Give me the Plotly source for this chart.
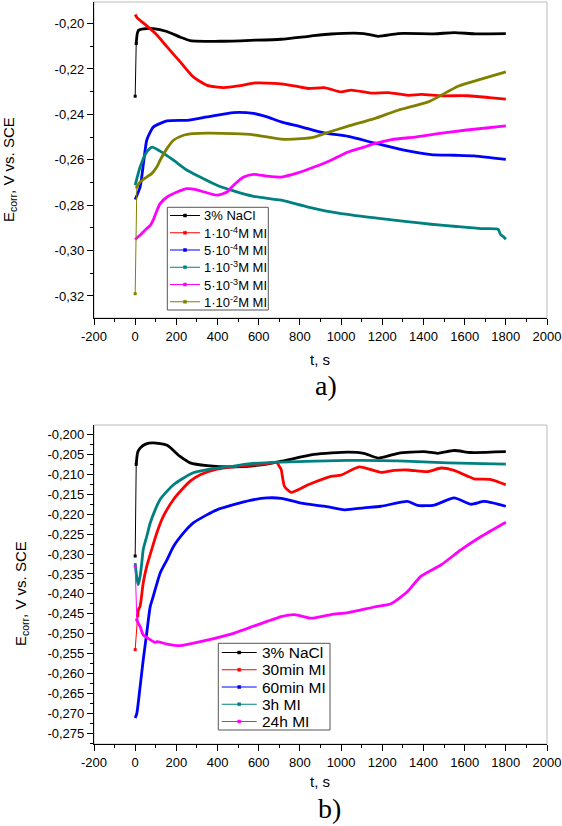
import plotly.graph_objects as go

# ---------------- data: panel a) ----------------
names_a = ["3% NaCl", "1·10<sup>-4</sup>M MI", "5·10<sup>-4</sup>M MI",
           "1·10<sup>-3</sup>M MI", "5·10<sup>-3</sup>M MI", "1·10<sup>-2</sup>M MI"]

nacl_a_t = [0, 5, 10, 16, 40, 89, 154, 220, 267, 413, 560, 709, 850, 951, 1111, 1180, 1277, 1451, 1549, 1650, 1800]
nacl_a_E = [-0.2320, -0.2088, -0.2045, -0.2030, -0.2023, -0.2022, -0.2035, -0.2060, -0.2075, -0.2078, -0.2074,
            -0.2069, -0.2055, -0.2046, -0.2044, -0.2056, -0.2044, -0.2045, -0.2040, -0.2045, -0.2044]

mi1e4_t = [0, 10, 39, 100, 155, 220, 282, 350, 429, 500, 575, 640, 709, 780, 840, 918, 1000, 1049, 1146, 1230,
           1326, 1390, 1486, 1617, 1720, 1800]
mi1e4_E = [-0.1960, -0.1975, -0.1997, -0.2045, -0.2103, -0.2170, -0.2235, -0.2272, -0.2282, -0.2275, -0.2262,
           -0.2262, -0.2266, -0.2276, -0.2286, -0.2282, -0.2301, -0.2293, -0.2306, -0.2304, -0.2316, -0.2312,
           -0.2318, -0.2318, -0.2326, -0.2333]

mi5e4_t = [0, 24, 40, 56, 73, 89, 154, 252, 350, 478, 575, 640, 709, 806, 918, 1034, 1161, 1306, 1437, 1549,
           1646, 1743, 1800]
mi5e4_E = [-0.2775, -0.2720, -0.2617, -0.2514, -0.2478, -0.2455, -0.2429, -0.2426, -0.2411, -0.2392, -0.2396,
           -0.2411, -0.2433, -0.2455, -0.2482, -0.2497, -0.2526, -0.2558, -0.2577, -0.2580, -0.2583, -0.2593, -0.2598]

mi1e3_t = [0, 24, 56, 82, 121, 186, 252, 316, 397, 478, 575, 709, 830, 951, 1070, 1194, 1320, 1437, 1560, 1680,
           1762, 1775, 1790, 1800]
mi1e3_E = [-0.2712, -0.2632, -0.2566, -0.2544, -0.2562, -0.2602, -0.2646, -0.2676, -0.2712, -0.2737, -0.2761,
           -0.2778, -0.2806, -0.2830, -0.2846, -0.2859, -0.2872, -0.2884, -0.2894, -0.2903, -0.2906, -0.2930,
           -0.2940, -0.2950]

mi5e3_t = [0, 20, 39, 56, 73, 90, 105, 121, 155, 203, 252, 290, 336, 398, 446, 478, 527, 575, 640, 709, 789, 869,
           951, 1034, 1111, 1161, 1245, 1358, 1471, 1600, 1800]
mi5e3_E = [-0.2951, -0.2935, -0.2918, -0.2903, -0.2889, -0.2860, -0.2825, -0.2793, -0.2764, -0.2742, -0.2727,
           -0.2730, -0.2742, -0.2756, -0.2742, -0.2712, -0.2676, -0.2664, -0.2672, -0.2676, -0.2658, -0.2632,
           -0.2602, -0.2566, -0.2544, -0.2529, -0.2511, -0.2500, -0.2485, -0.2470, -0.2451]

mi1e2_t = [0, 8, 24, 56, 80, 105, 121, 154, 186, 235, 282, 350, 478, 575, 709, 806, 869, 918, 1034, 1161, 1277,
           1423, 1486, 1568, 1680, 1800]
mi1e2_E = [-0.3190, -0.2720, -0.2698, -0.2676, -0.2661, -0.2632, -0.2602, -0.2551, -0.2514, -0.2492, -0.2485,
           -0.2483, -0.2485, -0.2490, -0.2509, -0.2507, -0.2500, -0.2485, -0.2452, -0.2419, -0.2382, -0.2345,
           -0.2316, -0.2276, -0.2245, -0.2213]

# ---------------- data: panel b) ----------------
names_b = ["3% NaCl", "30min MI", "60min MI", "3h MI", "24h MI"]

nacl_b_t = [0, 5, 12, 24, 50, 88, 155, 218, 267, 350, 478, 600, 709, 869, 1034, 1111, 1180, 1277, 1403, 1469,
            1549, 1630, 1800]
nacl_b_E = [-0.2305, -0.2075, -0.2045, -0.2034, -0.2024, -0.2021, -0.2027, -0.2055, -0.2071, -0.2078, -0.2081,
            -0.2077, -0.2067, -0.2050, -0.2044, -0.2047, -0.2059, -0.2047, -0.2043, -0.2047, -0.2040, -0.2045, -0.2043]

m30_t = [0, 12, 16, 24, 39, 56, 80, 105, 137, 186, 227, 267, 316, 397, 478, 607, 688, 700, 709, 725, 757, 840, 951,
         1000, 1088, 1194, 1258, 1323, 1420, 1486, 1549, 1646, 1727, 1800]
m30_E = [-0.2540, -0.2455, -0.2440, -0.2431, -0.2373, -0.2331, -0.2289, -0.2247, -0.2205, -0.2163, -0.2138, -0.2117,
         -0.2101, -0.2087, -0.2081, -0.2075, -0.2071, -0.2080, -0.2088, -0.2130, -0.2145, -0.2126, -0.2105, -0.2102,
         -0.2081, -0.2095, -0.2090, -0.2089, -0.2093, -0.2084, -0.2090, -0.2111, -0.2113, -0.2126]

m60_t = [0, 8, 24, 39, 56, 73, 88, 121, 155, 186, 235, 282, 350, 397, 478, 559, 640, 709, 806, 918, 1017, 1111,
         1194, 1323, 1371, 1453, 1549, 1630, 1695, 1800]
m60_E = [-0.2712, -0.2700, -0.2633, -0.2566, -0.2499, -0.2432, -0.2406, -0.2348, -0.2314, -0.2281, -0.2247, -0.2222,
         -0.2201, -0.2189, -0.2176, -0.2165, -0.2159, -0.2160, -0.2172, -0.2180, -0.2189, -0.2184, -0.2180, -0.2168,
         -0.2178, -0.2177, -0.2159, -0.2175, -0.2168, -0.2180]

h3_t = [0, 8, 15, 24, 32, 39, 56, 73, 97, 121, 155, 186, 235, 282, 350, 478, 559, 709, 1034, 1277, 1520, 1800]
h3_E = [-0.2323, -0.2360, -0.2377, -0.2356, -0.2323, -0.2289, -0.2256, -0.2222, -0.2189, -0.2163, -0.2142, -0.2126,
        -0.2109, -0.2096, -0.2088, -0.2079, -0.2073, -0.2069, -0.2065, -0.2066, -0.2071, -0.2074]

h24_t = [0, 8, 15, 24, 39, 73, 97, 105, 155, 218, 316, 478, 709, 774, 855, 951, 1034, 1161, 1242, 1323, 1387, 1486,
         1583, 1680, 1800]
h24_E = [-0.2331, -0.2465, -0.2474, -0.2482, -0.2503, -0.2515, -0.2522, -0.2520, -0.2526, -0.2530, -0.2520, -0.2499,
         -0.2457, -0.2452, -0.2461, -0.2452, -0.2447, -0.2433, -0.2425, -0.2394, -0.2356, -0.2327, -0.2289, -0.2256,
         -0.2220]

# ---------------- ticks / titles ----------------
x_tickvals = [-200, 0, 200, 400, 600, 800, 1000, 1200, 1400, 1600, 1800, 2000]
x_ticktext = ["-200", "0", "200", "400", "600", "800", "1000", "1200", "1400", "1600", "1800", "2000"]
ya_tickvals = [-0.32, -0.30, -0.28, -0.26, -0.24, -0.22, -0.20]
ya_ticktext = ["-0,32", "-0,30", "-0,28", "-0,26", "-0,24", "-0,22", "-0,20"]
yb_tickvals = [-0.275, -0.270, -0.265, -0.260, -0.255, -0.250, -0.245, -0.240, -0.235, -0.230, -0.225, -0.220,
               -0.215, -0.210, -0.205, -0.200]
yb_ticktext = ["-0,275", "-0,270", "-0,265", "-0,260", "-0,255", "-0,250", "-0,245", "-0,240", "-0,235", "-0,230",
               "-0,225", "-0,220", "-0,215", "-0,210", "-0,205", "-0,200"]
x_title = "t, s"
y_title = "E<sub>corr</sub>, V vs. SCE"
panel_labels = ["a)", "b)"]

# ---------------- styles ----------------
W, H = 562, 826
ML, MR, MT, MB = 94, 15, 2, 82
PW, PH = W - ML - MR, H - MT - MB


def px(xp):  # pixel -> paper x
    return (xp - ML) / PW


def py(yp):  # pixel -> paper y
    return (H - MB - yp) / PH


BLACK, RED, BLUE, TEAL, MAG, OLIVE = "#000000", "#FF0000", "#0000FF", "#008080", "#FF00FF", "#808000"
series_a = [
    (nacl_a_t, nacl_a_E, BLACK, 2),
    (mi1e4_t, mi1e4_E, RED, 0),
    (mi5e4_t, mi5e4_E, BLUE, 0),
    (mi1e3_t, mi1e3_E, TEAL, 0),
    (mi5e3_t, mi5e3_E, MAG, 0),
    (mi1e2_t, mi1e2_E, OLIVE, 2),
]
series_b = [
    (nacl_b_t, nacl_b_E, BLACK, 2),
    (m30_t, m30_E, RED, 2),
    (m60_t, m60_E, BLUE, 0),
    (h3_t, h3_E, TEAL, 0),
    (h24_t, h24_E, MAG, 2),
]

fig = go.Figure()
THICK = 2.8


def add_series(series, xa, ya):
    for t, e, col, nthin in series:
        start = 0
        if nthin:
            fig.add_trace(go.Scatter(x=t[:nthin], y=e[:nthin], mode="lines+markers", xaxis=xa, yaxis=ya,
                                     line=dict(color=col, width=1), marker=dict(color=col, size=3, symbol="square"),
                                     hoverinfo="skip"))
            start = nthin - 1
        fig.add_trace(go.Scatter(x=t[start:], y=e[start:], mode="lines", xaxis=xa, yaxis=ya,
                                 line=dict(color=col, width=THICK, shape="spline", smoothing=0.6)))


add_series(series_a, "x", "y")
add_series(series_b, "x2", "y2")

shapes = [
    dict(type="rect", xref="x domain", yref="y domain", x0=0, x1=1, y0=0, y1=1,
         line=dict(color="#BBBBBB", width=1), layer="below"),
    dict(type="rect", xref="x2 domain", yref="y2 domain", x0=0, x1=1, y0=0, y1=1,
         line=dict(color="#BBBBBB", width=1), layer="below"),
]
annotations = []


def add_legend(names, series, box, y0, step, line_x, text_x, fsize):
    bx0, bx1, by0, by1 = box
    shapes.append(dict(type="rect", xref="paper", yref="paper", x0=px(bx0), x1=px(bx1), y0=py(by1), y1=py(by0),
                       line=dict(color="#555555", width=1), fillcolor="white", layer="above"))
    for i, (name, s) in enumerate(zip(names, series)):
        col = s[2]
        yy = y0 + i * step
        shapes.append(dict(type="line", xref="paper", yref="paper", x0=px(line_x[0]), x1=px(line_x[1]),
                           y0=py(yy), y1=py(yy), line=dict(color=col, width=1), layer="above"))
        mx = (line_x[0] + line_x[1]) / 2
        shapes.append(dict(type="rect", xref="paper", yref="paper", x0=px(mx - 1.5), x1=px(mx + 1.5),
                           y0=py(yy + 1.5), y1=py(yy - 1.5), line=dict(color=col, width=0.5),
                           fillcolor=col, layer="above"))
        annotations.append(dict(text=name, x=px(text_x), y=py(yy), xref="paper", yref="paper", showarrow=False,
                                xanchor="left", yanchor="middle",
                                font=dict(family="Liberation Sans, Arial", size=fsize, color="black")))


add_legend(names_a, series_a, (167.3, 268.3, 207.3, 310), 215.5, 17.25, (170, 200), 202, 13)
add_legend(names_b, series_b, (218.3, 330, 643.3, 730), 652.5, 17.25, (221.7, 256.7), 260, 15.5)

title_font = dict(family="Liberation Sans, Arial", size=15, color="black")
panel_font = dict(family="Liberation Serif, Times New Roman", size=28, color="black")
annotations += [
    dict(text=y_title, x=px(10), y=py(170), xref="paper", yref="paper", showarrow=False, textangle=-90,
         xanchor="center", yanchor="middle", font=title_font),
    dict(text=y_title, x=px(21), y=py(594), xref="paper", yref="paper", showarrow=False, textangle=-90,
         xanchor="center", yanchor="middle", font=title_font),
    dict(text=x_title, x=px(319.5), y=py(359), xref="paper", yref="paper", showarrow=False,
         xanchor="center", yanchor="middle", font=title_font),
    dict(text=x_title, x=px(319.5), y=py(781), xref="paper", yref="paper", showarrow=False,
         xanchor="center", yanchor="middle", font=title_font),
    dict(text=panel_labels[0], x=px(326), y=py(386), xref="paper", yref="paper", showarrow=False,
         xanchor="center", yanchor="middle", font=panel_font),
    dict(text=panel_labels[1], x=px(329), y=py(808), xref="paper", yref="paper", showarrow=False,
         xanchor="center", yanchor="middle", font=panel_font),
]

axis_common = dict(showgrid=False, zeroline=False, showline=True, linecolor="black", linewidth=1.3,
                   ticks="outside", ticklen=6, tickwidth=1.2, tickcolor="black",
                   tickfont=dict(family="Liberation Sans, Arial", size=13, color="black"),
                   tickmode="array")
minor_x = dict(ticks="outside", ticklen=3, tickwidth=1, tickcolor="black", dtick=100, tick0=0, showgrid=False)

fig.update_layout(
    width=W, height=H,
    margin=dict(l=ML, r=MR, t=MT, b=MB),
    paper_bgcolor="white", plot_bgcolor="white",
    showlegend=False,
    font=dict(family="Liberation Sans, Arial", color="black"),
    xaxis=dict(axis_common, domain=[0, 1], range=[-200, 2000], tickvals=x_tickvals, ticktext=x_ticktext,
               minor=minor_x, anchor="y"),
    yaxis=dict(axis_common, domain=[py(318), 1.0], range=[-0.3297, -0.1905], tickvals=ya_tickvals,
               ticktext=ya_ticktext, anchor="x",
               minor=dict(ticks="outside", ticklen=3, tickwidth=1, tickcolor="black", dtick=0.01, tick0=-0.33)),
    xaxis2=dict(axis_common, domain=[0, 1], range=[-200, 2000], tickvals=x_tickvals, ticktext=x_ticktext,
                minor=minor_x, anchor="y2"),
    yaxis2=dict(axis_common, domain=[0.0, py(425)], range=[-0.2777, -0.1976], tickvals=yb_tickvals,
                ticktext=yb_ticktext, anchor="x2",
                minor=dict(ticks="outside", ticklen=3, tickwidth=1, tickcolor="black", dtick=0.0025, tick0=-0.2775)),
    shapes=shapes,
    annotations=annotations,
)

fig.write_html("out.html", config={"displayModeBar": False},
               post_script="document.body.style.margin='0';document.body.style.overflow='hidden';")
